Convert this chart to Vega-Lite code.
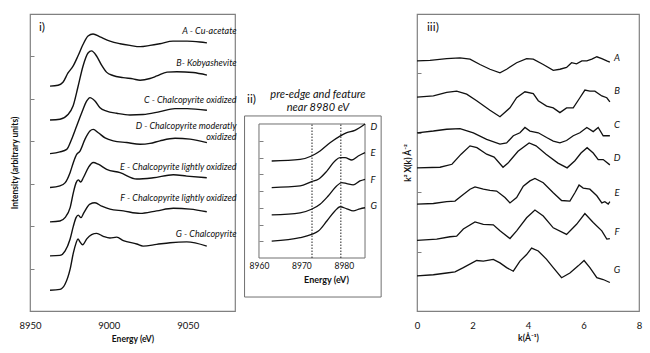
{
 "$schema": "https://vega.github.io/schema/vega-lite/v6.json",
 "background": "white",
 "padding": {"left": 9, "top": 13, "right": 11, "bottom": 5},
 "autosize": {"type": "pad"},
 "spacing": 9,
 "bounds": "flush",
 "config": {
  "font": "Lato",
  "view": {"stroke": "#808080", "strokeWidth": 1.2},
  "axis": {"grid": false, "labelFont": "Lato", "titleFont": "Lato", "labelColor": "#111", "titleColor": "#111", "labelFlush": false, "labelOverlap": false},
  "text": {"font": "Lato", "color": "#111"}
 },
 "datasets": {
  "one": [{"n": 1}],
  "xanes": [
   {"curve":"A","energy":8962.7,"intensity":5.30},{"curve":"A","energy":8967.8,"intensity":5.32},{"curve":"A","energy":8970.9,"intensity":5.39},{"curve":"A","energy":8974.1,"intensity":5.61},{"curve":"A","energy":8977.3,"intensity":5.77},{"curve":"A","energy":8980.4,"intensity":6.01},{"curve":"A","energy":8983.6,"intensity":6.28},{"curve":"A","energy":8986.8,"intensity":6.48},{"curve":"A","energy":8990.0,"intensity":6.53},{"curve":"A","energy":8994.4,"intensity":6.46},{"curve":"A","energy":9000.7,"intensity":6.36},{"curve":"A","energy":9007.1,"intensity":6.30},{"curve":"A","energy":9013.4,"intensity":6.26},{"curve":"A","energy":9019.8,"intensity":6.23},{"curve":"A","energy":9026.1,"intensity":6.26},{"curve":"A","energy":9032.4,"intensity":6.30},{"curve":"A","energy":9040.7,"intensity":6.36},{"curve":"A","energy":9049.6,"intensity":6.36},{"curve":"A","energy":9057.8,"intensity":6.34},{"curve":"A","energy":9062.2,"intensity":6.32},
   {"curve":"B","energy":8962.7,"intensity":4.50},{"curve":"B","energy":8969.0,"intensity":4.52},{"curve":"B","energy":8974.1,"intensity":4.63},{"curve":"B","energy":8977.3,"intensity":4.83},{"curve":"B","energy":8980.4,"intensity":5.28},{"curve":"B","energy":8983.6,"intensity":5.77},{"curve":"B","energy":8986.8,"intensity":6.08},{"curve":"B","energy":8989.0,"intensity":6.13},{"curve":"B","energy":8992.2,"intensity":6.01},{"curve":"B","energy":8995.3,"intensity":5.80},{"curve":"B","energy":8998.5,"intensity":5.63},{"curve":"B","energy":9002.6,"intensity":5.55},{"curve":"B","energy":9009.0,"intensity":5.50},{"curve":"B","energy":9015.3,"intensity":5.47},{"curve":"B","energy":9019.8,"intensity":5.44},{"curve":"B","energy":9026.1,"intensity":5.48},{"curve":"B","energy":9030.5,"intensity":5.54},{"curve":"B","energy":9036.9,"intensity":5.63},{"curve":"B","energy":9043.2,"intensity":5.64},{"curve":"B","energy":9053.4,"intensity":5.62},{"curve":"B","energy":9062.2,"intensity":5.56},
   {"curve":"C","energy":8962.7,"intensity":3.71},{"curve":"C","energy":8969.0,"intensity":3.75},{"curve":"C","energy":8973.3,"intensity":3.81},{"curve":"C","energy":8976.4,"intensity":4.05},{"curve":"C","energy":8979.6,"intensity":4.36},{"curve":"C","energy":8982.8,"intensity":4.67},{"curve":"C","energy":8986.0,"intensity":4.95},{"curve":"C","energy":8988.0,"intensity":5.03},{"curve":"C","energy":8991.2,"intensity":4.95},{"curve":"C","energy":8994.4,"intensity":4.79},{"curve":"C","energy":8998.6,"intensity":4.71},{"curve":"C","energy":9005.0,"intensity":4.66},{"curve":"C","energy":9013.4,"intensity":4.62},{"curve":"C","energy":9021.7,"intensity":4.63},{"curve":"C","energy":9032.4,"intensity":4.70},{"curve":"C","energy":9041.9,"intensity":4.77},{"curve":"C","energy":9049.6,"intensity":4.77},{"curve":"C","energy":9062.2,"intensity":4.73},
   {"curve":"D","energy":8962.7,"intensity":2.91},{"curve":"D","energy":8969.0,"intensity":2.95},{"curve":"D","energy":8972.2,"intensity":3.02},{"curve":"D","energy":8975.4,"intensity":3.26},{"curve":"D","energy":8977.5,"intensity":3.50},{"curve":"D","energy":8979.6,"intensity":3.69},{"curve":"D","energy":8981.7,"intensity":3.77},{"curve":"D","energy":8984.9,"intensity":4.05},{"curve":"D","energy":8988.0,"intensity":4.24},{"curve":"D","energy":8990.1,"intensity":4.28},{"curve":"D","energy":8993.3,"intensity":4.20},{"curve":"D","energy":8997.6,"intensity":4.08},{"curve":"D","energy":9002.8,"intensity":4.01},{"curve":"D","energy":9011.3,"intensity":3.97},{"curve":"D","energy":9019.8,"intensity":3.93},{"curve":"D","energy":9026.1,"intensity":3.95},{"curve":"D","energy":9032.4,"intensity":4.01},{"curve":"D","energy":9042.0,"intensity":4.07},{"curve":"D","energy":9051.5,"intensity":4.05},{"curve":"D","energy":9062.2,"intensity":3.97},
   {"curve":"E","energy":8962.7,"intensity":2.10},{"curve":"E","energy":8969.0,"intensity":2.12},{"curve":"E","energy":8972.2,"intensity":2.20},{"curve":"E","energy":8975.4,"intensity":2.43},{"curve":"E","energy":8977.5,"intensity":2.79},{"curve":"E","energy":8979.2,"intensity":3.02},{"curve":"E","energy":8980.6,"intensity":3.09},{"curve":"E","energy":8982.2,"intensity":3.04},{"curve":"E","energy":8983.8,"intensity":3.14},{"curve":"E","energy":8987.0,"intensity":3.38},{"curve":"E","energy":8990.1,"intensity":3.50},{"curve":"E","energy":8993.3,"intensity":3.46},{"curve":"E","energy":8998.6,"intensity":3.34},{"curve":"E","energy":9007.1,"intensity":3.26},{"curve":"E","energy":9017.7,"intensity":3.11},{"curve":"E","energy":9028.2,"intensity":3.14},{"curve":"E","energy":9040.9,"intensity":3.21},{"curve":"E","energy":9049.4,"intensity":3.18},{"curve":"E","energy":9062.1,"intensity":3.14},
   {"curve":"F","energy":8962.7,"intensity":1.30},{"curve":"F","energy":8969.0,"intensity":1.31},{"curve":"F","energy":8972.2,"intensity":1.41},{"curve":"F","energy":8975.4,"intensity":1.69},{"curve":"F","energy":8977.5,"intensity":2.00},{"curve":"F","energy":8979.2,"intensity":2.20},{"curve":"F","energy":8980.6,"intensity":2.26},{"curve":"F","energy":8982.3,"intensity":2.20},{"curve":"F","energy":8984.2,"intensity":2.32},{"curve":"F","energy":8988.0,"intensity":2.52},{"curve":"F","energy":8991.2,"intensity":2.55},{"curve":"F","energy":8995.5,"intensity":2.47},{"curve":"F","energy":9000.7,"intensity":2.40},{"curve":"F","energy":9009.2,"intensity":2.36},{"curve":"F","energy":9019.8,"intensity":2.30},{"curve":"F","energy":9030.3,"intensity":2.36},{"curve":"F","energy":9040.9,"intensity":2.42},{"curve":"F","energy":9051.5,"intensity":2.40},{"curve":"F","energy":9062.1,"intensity":2.34},
   {"curve":"G","energy":8962.7,"intensity":0.49},{"curve":"G","energy":8969.0,"intensity":0.51},{"curve":"G","energy":8972.2,"intensity":0.63},{"curve":"G","energy":8975.4,"intensity":0.98},{"curve":"G","energy":8977.5,"intensity":1.37},{"curve":"G","energy":8979.2,"intensity":1.60},{"curve":"G","energy":8980.4,"intensity":1.70},{"curve":"G","energy":8981.7,"intensity":1.63},{"curve":"G","energy":8983.4,"intensity":1.56},{"curve":"G","energy":8986.0,"intensity":1.70},{"curve":"G","energy":8989.1,"intensity":1.80},{"curve":"G","energy":8992.3,"intensity":1.83},{"curve":"G","energy":8996.5,"intensity":1.76},{"curve":"G","energy":9000.7,"intensity":1.72},{"curve":"G","energy":9005.0,"intensity":1.74},{"curve":"G","energy":9009.2,"intensity":1.66},{"curve":"G","energy":9017.7,"intensity":1.58},{"curve":"G","energy":9021.7,"intensity":1.53},{"curve":"G","energy":9030.3,"intensity":1.57},{"curve":"G","energy":9038.8,"intensity":1.61},{"curve":"G","energy":9049.4,"intensity":1.63},{"curve":"G","energy":9062.1,"intensity":1.53}
  ],
  "xanes_labels": [
   {"label":"A - Cu-acetate","energy":9081,"intensity":6.60},
   {"label":"B- Kobyashevite","energy":9081,"intensity":5.85},
   {"label":"C - Chalcopyrite oxidized","energy":9081,"intensity":4.97},
   {"label":"D - Chalcopyrite moderatly","energy":9081,"intensity":4.36},
   {"label":"oxidized","energy":9081,"intensity":4.10},
   {"label":"E - Chalcopyrite lightly oxidized","energy":9081,"intensity":3.39},
   {"label":"F - Chalcopyrite lightly oxidized","energy":9081,"intensity":2.66},
   {"label":"G - Chalcopyrite","energy":9081,"intensity":1.82}
  ],
  "preedge": [
   {"curve":"D","energy":8963.0,"intensity":5.79},{"curve":"D","energy":8969.7,"intensity":5.89},{"curve":"D","energy":8972.4,"intensity":6.09},{"curve":"D","energy":8974.4,"intensity":6.39},{"curve":"D","energy":8976.75,"intensity":6.88},{"curve":"D","energy":8979.1,"intensity":7.28},{"curve":"D","energy":8980.7,"intensity":7.48},{"curve":"D","energy":8982.6,"intensity":7.62},{"curve":"D","energy":8985.0,"intensity":8.0},
   {"curve":"E","energy":8963.0,"intensity":4.20},{"curve":"E","energy":8969.7,"intensity":4.30},{"curve":"E","energy":8972.4,"intensity":4.56},{"curve":"E","energy":8974.0,"intensity":4.70},{"curve":"E","energy":8976.0,"intensity":5.19},{"curve":"E","energy":8977.9,"intensity":5.79},{"curve":"E","energy":8979.1,"intensity":5.99},{"curve":"E","energy":8980.3,"intensity":5.99},{"curve":"E","energy":8981.9,"intensity":5.85},{"curve":"E","energy":8983.4,"intensity":6.09},{"curve":"E","energy":8985.0,"intensity":6.29},
   {"curve":"F","energy":8963.0,"intensity":2.57},{"curve":"F","energy":8969.7,"intensity":2.70},{"curve":"F","energy":8972.4,"intensity":2.91},{"curve":"F","energy":8974.4,"intensity":3.21},{"curve":"F","energy":8976.3,"intensity":3.70},{"curve":"F","energy":8978.3,"intensity":4.30},{"curve":"F","energy":8979.5,"intensity":4.50},{"curve":"F","energy":8980.7,"intensity":4.44},{"curve":"F","energy":8982.2,"intensity":4.36},{"curve":"F","energy":8983.8,"intensity":4.60},{"curve":"F","energy":8985.0,"intensity":4.70},
   {"curve":"G","energy":8963.0,"intensity":1.01},{"curve":"G","energy":8969.7,"intensity":1.21},{"curve":"G","energy":8972.4,"intensity":1.41},{"curve":"G","energy":8974.0,"intensity":1.61},{"curve":"G","energy":8976.0,"intensity":2.21},{"curve":"G","energy":8977.9,"intensity":2.81},{"curve":"G","energy":8979.1,"intensity":3.06},{"curve":"G","energy":8980.7,"intensity":2.94},{"curve":"G","energy":8982.2,"intensity":2.81},{"curve":"G","energy":8983.8,"intensity":2.94},{"curve":"G","energy":8985.0,"intensity":3.00}
  ],
  "preedge_labels": [
   {"label":"D","energy":8986.3,"intensity":7.82},
   {"label":"E","energy":8986.3,"intensity":6.27},
   {"label":"F","energy":8986.3,"intensity":4.66},
   {"label":"G","energy":8986.3,"intensity":3.10}
  ],
  "preedge_markers": [{"energy":8972.5,"low":0,"high":8},{"energy":8979.3,"low":0,"high":8}],
  "exafs": [
   {"curve":"A","k":0,"chi":4.21},{"curve":"A","k":0.47,"chi":4.22},{"curve":"A","k":1.07,"chi":4.25},{"curve":"A","k":1.55,"chi":4.26},{"curve":"A","k":1.91,"chi":4.24},{"curve":"A","k":2.27,"chi":4.15},{"curve":"A","k":2.63,"chi":4.07},{"curve":"A","k":2.99,"chi":4.01},{"curve":"A","k":3.23,"chi":4.07},{"curve":"A","k":3.59,"chi":4.18},{"curve":"A","k":3.95,"chi":4.25},{"curve":"A","k":4.19,"chi":4.24},{"curve":"A","k":4.55,"chi":4.15},{"curve":"A","k":4.91,"chi":4.05},{"curve":"A","k":5.15,"chi":4.07},{"curve":"A","k":5.39,"chi":4.10},{"curve":"A","k":5.57,"chi":4.18},{"curve":"A","k":5.75,"chi":4.16},{"curve":"A","k":5.94,"chi":4.21},{"curve":"A","k":6.12,"chi":4.21},{"curve":"A","k":6.30,"chi":4.24},{"curve":"A","k":6.48,"chi":4.28},{"curve":"A","k":6.66,"chi":4.25},{"curve":"A","k":6.84,"chi":4.21},{"curve":"A","k":6.95,"chi":4.19},
   {"curve":"B","k":0,"chi":3.60},{"curve":"B","k":0.59,"chi":3.62},{"curve":"B","k":1.07,"chi":3.68},{"curve":"B","k":1.43,"chi":3.70},{"curve":"B","k":1.79,"chi":3.65},{"curve":"B","k":2.15,"chi":3.54},{"curve":"B","k":2.63,"chi":3.38},{"curve":"B","k":2.99,"chi":3.27},{"curve":"B","k":3.35,"chi":3.42},{"curve":"B","k":3.59,"chi":3.59},{"curve":"B","k":3.89,"chi":3.69},{"curve":"B","k":4.19,"chi":3.66},{"curve":"B","k":4.37,"chi":3.54},{"curve":"B","k":4.67,"chi":3.45},{"curve":"B","k":4.91,"chi":3.42},{"curve":"B","k":5.15,"chi":3.34},{"curve":"B","k":5.39,"chi":3.42},{"curve":"B","k":5.63,"chi":3.42},{"curve":"B","k":5.87,"chi":3.59},{"curve":"B","k":6.05,"chi":3.72},{"curve":"B","k":6.23,"chi":3.70},{"curve":"B","k":6.41,"chi":3.70},{"curve":"B","k":6.66,"chi":3.62},{"curve":"B","k":6.84,"chi":3.59},{"curve":"B","k":6.95,"chi":3.52},
   {"curve":"C","k":0,"chi":3.00},{"curve":"C","k":0.59,"chi":3.03},{"curve":"C","k":1.07,"chi":3.06},{"curve":"C","k":1.55,"chi":3.07},{"curve":"C","k":2.03,"chi":3.00},{"curve":"C","k":2.51,"chi":2.89},{"curve":"C","k":2.99,"chi":2.81},{"curve":"C","k":3.23,"chi":2.83},{"curve":"C","k":3.47,"chi":2.95},{"curve":"C","k":3.71,"chi":3.00},{"curve":"C","k":3.89,"chi":3.09},{"curve":"C","k":4.07,"chi":3.03},{"curve":"C","k":4.37,"chi":3.00},{"curve":"C","k":4.67,"chi":2.92},{"curve":"C","k":4.91,"chi":2.86},{"curve":"C","k":5.15,"chi":2.83},{"curve":"C","k":5.39,"chi":2.87},{"curve":"C","k":5.63,"chi":2.95},{"curve":"C","k":5.87,"chi":3.00},{"curve":"C","k":6.12,"chi":3.09},{"curve":"C","k":6.35,"chi":3.02},{"curve":"C","k":6.53,"chi":3.09},{"curve":"C","k":6.71,"chi":2.95},{"curve":"C","k":6.95,"chi":2.95},
   {"curve":"D","k":0,"chi":2.41},{"curve":"D","k":0.83,"chi":2.42},{"curve":"D","k":1.26,"chi":2.47},{"curve":"D","k":1.59,"chi":2.64},{"curve":"D","k":1.91,"chi":2.78},{"curve":"D","k":2.16,"chi":2.75},{"curve":"D","k":2.51,"chi":2.64},{"curve":"D","k":2.78,"chi":2.59},{"curve":"D","k":3.10,"chi":2.42},{"curve":"D","k":3.28,"chi":2.49},{"curve":"D","k":3.64,"chi":2.69},{"curve":"D","k":4.04,"chi":2.83},{"curve":"D","k":4.29,"chi":2.78},{"curve":"D","k":4.65,"chi":2.64},{"curve":"D","k":5.08,"chi":2.49},{"curve":"D","k":5.41,"chi":2.41},{"curve":"D","k":5.69,"chi":2.53},{"curve":"D","k":5.91,"chi":2.66},{"curve":"D","k":6.13,"chi":2.75},{"curve":"D","k":6.35,"chi":2.66},{"curve":"D","k":6.53,"chi":2.55},{"curve":"D","k":6.71,"chi":2.55},{"curve":"D","k":6.95,"chi":2.46},
   {"curve":"E","k":0,"chi":1.80},{"curve":"E","k":0.59,"chi":1.81},{"curve":"E","k":1.07,"chi":1.84},{"curve":"E","k":1.37,"chi":1.85},{"curve":"E","k":1.61,"chi":1.94},{"curve":"E","k":1.91,"chi":2.05},{"curve":"E","k":2.09,"chi":2.09},{"curve":"E","k":2.39,"chi":2.05},{"curve":"E","k":2.63,"chi":2.03},{"curve":"E","k":2.87,"chi":2.02},{"curve":"E","k":3.17,"chi":1.91},{"curve":"E","k":3.35,"chi":1.82},{"curve":"E","k":3.59,"chi":1.91},{"curve":"E","k":3.83,"chi":2.10},{"curve":"E","k":4.07,"chi":2.19},{"curve":"E","k":4.25,"chi":2.23},{"curve":"E","k":4.55,"chi":2.16},{"curve":"E","k":4.91,"chi":1.99},{"curve":"E","k":5.21,"chi":1.86},{"curve":"E","k":5.51,"chi":1.85},{"curve":"E","k":5.69,"chi":1.99},{"curve":"E","k":5.84,"chi":2.12},{"curve":"E","k":5.99,"chi":2.07},{"curve":"E","k":6.23,"chi":2.05},{"curve":"E","k":6.48,"chi":1.94},{"curve":"E","k":6.66,"chi":1.82},{"curve":"E","k":6.77,"chi":1.84},{"curve":"E","k":6.89,"chi":1.80},{"curve":"E","k":6.95,"chi":1.84},
   {"curve":"F","k":0,"chi":1.19},{"curve":"F","k":0.71,"chi":1.21},{"curve":"F","k":1.19,"chi":1.25},{"curve":"F","k":1.43,"chi":1.26},{"curve":"F","k":1.67,"chi":1.38},{"curve":"F","k":2.09,"chi":1.50},{"curve":"F","k":2.39,"chi":1.46},{"curve":"F","k":2.75,"chi":1.45},{"curve":"F","k":2.99,"chi":1.35},{"curve":"F","k":3.35,"chi":1.22},{"curve":"F","k":3.59,"chi":1.35},{"curve":"F","k":3.95,"chi":1.57},{"curve":"F","k":4.25,"chi":1.70},{"curve":"F","k":4.55,"chi":1.60},{"curve":"F","k":4.91,"chi":1.40},{"curve":"F","k":5.39,"chi":1.29},{"curve":"F","k":5.75,"chi":1.46},{"curve":"F","k":6.05,"chi":1.64},{"curve":"F","k":6.35,"chi":1.49},{"curve":"F","k":6.66,"chi":1.35},{"curve":"F","k":6.84,"chi":1.21},{"curve":"F","k":6.95,"chi":1.22},
   {"curve":"G","k":0,"chi":0.59},{"curve":"G","k":0.59,"chi":0.61},{"curve":"G","k":1.07,"chi":0.64},{"curve":"G","k":1.37,"chi":0.66},{"curve":"G","k":1.67,"chi":0.73},{"curve":"G","k":2.15,"chi":0.85},{"curve":"G","k":2.39,"chi":0.84},{"curve":"G","k":2.75,"chi":0.87},{"curve":"G","k":2.99,"chi":0.81},{"curve":"G","k":3.23,"chi":0.73},{"curve":"G","k":3.47,"chi":0.67},{"curve":"G","k":3.71,"chi":0.84},{"curve":"G","k":3.95,"chi":0.95},{"curve":"G","k":4.13,"chi":1.06},{"curve":"G","k":4.37,"chi":1.01},{"curve":"G","k":4.67,"chi":0.87},{"curve":"G","k":4.91,"chi":0.73},{"curve":"G","k":5.21,"chi":0.56},{"curve":"G","k":5.51,"chi":0.64},{"curve":"G","k":5.81,"chi":0.76},{"curve":"G","k":6.02,"chi":0.85},{"curve":"G","k":6.23,"chi":0.73},{"curve":"G","k":6.48,"chi":0.56},{"curve":"G","k":6.71,"chi":0.53},{"curve":"G","k":6.95,"chi":0.48}
  ],
  "exafs_labels": [
   {"label":"A","k":7.21,"chi":4.26},
   {"label":"B","k":7.21,"chi":3.70},
   {"label":"C","k":7.21,"chi":3.13},
   {"label":"D","k":7.21,"chi":2.57},
   {"label":"E","k":7.21,"chi":1.99},
   {"label":"F","k":7.21,"chi":1.33},
   {"label":"G","k":7.21,"chi":0.69}
  ]
 },
 "hconcat": [
  {
   "width": 205, "height": 297,
   "layer": [
    {"data":{"name":"xanes"},"mark":{"type":"line","color":"#111","strokeWidth":1.4,"interpolate":"monotone"},
     "encoding":{
      "x": {"field":"energy","type":"quantitative","scale":{"domain":[8950,9080],"nice":false,"zero":false},
            "axis":{"values":[8950,9000,9050],"format":"d","title":"Energy (eV)","labelFontSize":9.5,"labelPadding":9,"titleFontSize":8.5,"titleFontWeight":"bold","titlePadding":5,"ticks":false,"domain":false}},
      "y": {"field":"intensity","type":"quantitative","scale":{"domain":[0,7],"nice":false,"zero":false},
            "axis":{"values":[1,2,3,4,5,6],"labels":false,"ticks":true,"tickSize":-4,"tickColor":"#808080","domain":false,"title":"Intensity (arbitrary units)","titleFontSize":8.5,"titleFontWeight":"bold","titlePadding":10}},
      "detail":{"field":"curve"}}},
    {"data":{"name":"xanes_labels"},"mark":{"type":"text","align":"right","baseline":"middle","fontStyle":"italic","fontSize":9},
     "encoding":{"x":{"field":"energy","type":"quantitative"},"y":{"field":"intensity","type":"quantitative"},"text":{"field":"label"}}},
    {"data":{"name":"one"},"mark":{"type":"text","text":"i)","align":"left","baseline":"middle","fontSize":12},
     "encoding":{"x":{"datum":8955.7,"type":"quantitative"},"y":{"datum":6.69,"type":"quantitative"}}}
   ]
  },
  {
   "width": 164, "height": 297,
   "view": {"stroke": null},
   "layer": [
    {"data":{"name":"one"},"mark":{"type":"rect","filled":false,"stroke":"#707070","strokeWidth":1},
     "encoding":{"x":{"datum":8956.6,"type":"quantitative","scale":{"domain":[8956.47,8995.13],"nice":false,"zero":false},
                      "axis":{"values":[8960,8970,8980],"format":"d","offset":-53,"domain":false,"ticks":false,"labelFontSize":8.5,"labelPadding":3,"title":"Energy (eV)","titleFontSize":9,"titleFontWeight":"bold","titlePadding":6}},
                 "x2":{"datum":8988.8},
                 "y":{"datum":-2.33,"type":"quantitative","scale":{"domain":[-3.164,14.567],"nice":false,"zero":false},
                      "axis":{"values":[1,2,3,4,5,6,7],"offset":-15,"domain":false,"labels":false,"tickSize":-4,"tickColor":"#808080","title":null}},
                 "y2":{"datum":8.48}}},
    {"data":{"name":"one"},"mark":{"type":"rect","filled":false,"stroke":"#707070","strokeWidth":1},
     "encoding":{"x":{"datum":8960,"type":"quantitative"},"x2":{"datum":8985},
                 "y":{"datum":0,"type":"quantitative"},"y2":{"datum":8}}},
    {"data":{"name":"preedge_markers"},"mark":{"type":"rule","color":"#222","strokeWidth":1,"strokeDash":[1.5,1.5]},
     "encoding":{"x":{"field":"energy","type":"quantitative"},"y":{"field":"low","type":"quantitative"},"y2":{"field":"high"}}},
    {"data":{"name":"preedge"},"mark":{"type":"line","color":"#111","strokeWidth":1.3,"interpolate":"monotone"},
     "encoding":{"x":{"field":"energy","type":"quantitative"},"y":{"field":"intensity","type":"quantitative"},"detail":{"field":"curve"}}},
    {"data":{"name":"preedge_labels"},"mark":{"type":"text","align":"left","baseline":"middle","fontStyle":"italic","fontSize":9.5},
     "encoding":{"x":{"field":"energy","type":"quantitative"},"y":{"field":"intensity","type":"quantitative"},"text":{"field":"label"}}},
    {"data":{"name":"one"},"mark":{"type":"text","text":"ii)","align":"left","baseline":"middle","fontSize":12},
     "encoding":{"x":{"datum":8957.2,"type":"quantitative"},"y":{"datum":9.5,"type":"quantitative"}}},
    {"data":{"name":"one"},"mark":{"type":"text","text":"pre-edge and feature","align":"center","baseline":"middle","fontSize":11,"fontStyle":"italic"},
     "encoding":{"x":{"datum":8973.9,"type":"quantitative"},"y":{"datum":9.73,"type":"quantitative"}}},
    {"data":{"name":"one"},"mark":{"type":"text","text":"near 8980 eV","align":"center","baseline":"middle","fontSize":11,"fontStyle":"italic"},
     "encoding":{"x":{"datum":8973.9,"type":"quantitative"},"y":{"datum":8.96,"type":"quantitative"}}}
   ]
  },
  {
   "width": 222, "height": 297,
   "layer": [
    {"data":{"name":"exafs"},"mark":{"type":"line","color":"#111","strokeWidth":1.3},
     "encoding":{
      "x": {"field":"k","type":"quantitative","scale":{"domain":[0,8],"nice":false,"zero":false},
            "axis":{"values":[0,2,4,6,8],"format":"d","title":"k(Å⁻¹)","labelFontSize":9.5,"labelPadding":9,"titleFontSize":8.5,"titleFontWeight":"bold","titlePadding":4,"ticks":false,"domain":false}},
      "y": {"field":"chi","type":"quantitative","scale":{"domain":[0,5],"nice":false,"zero":false},
            "axis":{"values":[1,2,3,4],"labels":false,"ticks":true,"tickSize":-4,"tickColor":"#808080","domain":false,"title":"k² X(k) Å⁻²","titleFontSize":8.5,"titleFontWeight":"bold","titlePadding":4}},
      "detail":{"field":"curve"}}},
    {"data":{"name":"exafs_labels"},"mark":{"type":"text","align":"center","baseline":"middle","fontStyle":"italic","fontSize":9.5},
     "encoding":{"x":{"field":"k","type":"quantitative"},"y":{"field":"chi","type":"quantitative"},"text":{"field":"label"}}},
    {"data":{"name":"one"},"mark":{"type":"text","text":"iii)","align":"left","baseline":"middle","fontSize":12},
     "encoding":{"x":{"datum":0.36,"type":"quantitative"},"y":{"datum":4.78,"type":"quantitative"}}}
   ]
  }
 ]
}
